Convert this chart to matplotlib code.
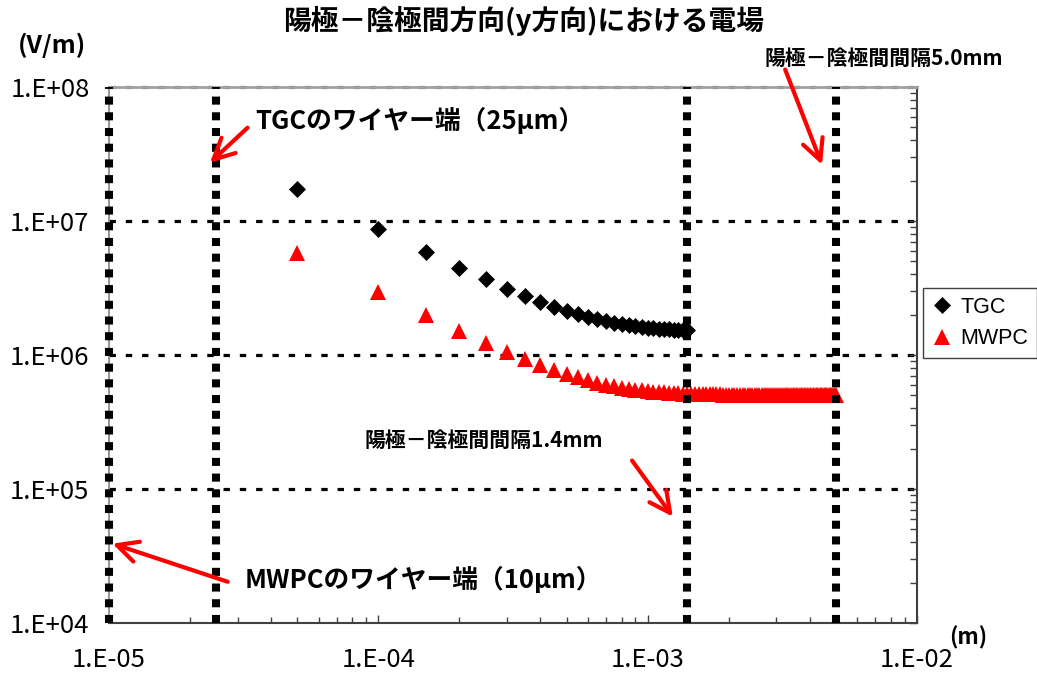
import numpy as np
import matplotlib
matplotlib.use("Agg")
import matplotlib.pyplot as plt
from matplotlib.ticker import LogLocator, FuncFormatter, NullFormatter

plt.rcParams['font.family'] = ['Noto Sans CJK JP', 'DejaVu Sans']

# distance from the wire (um) and field strength (V/m)
tgc_um = [50, 100, 150, 200, 250, 300, 350, 400, 450, 500,
          550, 600, 650, 700, 750, 800, 850, 900, 950, 1000,
          1050, 1100, 1150, 1200, 1250, 1300, 1350, 1400]
tgc_field = [1.72e7, 8.70e6, 5.87e6, 4.48e6, 3.67e6, 3.12e6, 2.76e6, 2.49e6, 2.29e6, 2.14e6,
             2.02e6, 1.93e6, 1.85e6, 1.79e6, 1.74e6, 1.70e6, 1.67e6, 1.64e6, 1.62e6, 1.60e6,
             1.585e6, 1.572e6, 1.562e6, 1.553e6, 1.546e6, 1.540e6, 1.535e6, 1.531e6]

mwpc_um = [50, 100, 150, 200, 250, 300, 350, 400, 450, 500,
           550, 600, 650, 700, 750, 800, 850, 900, 950, 1000,
           1050, 1100, 1150, 1200, 1250, 1300, 1350, 1400, 1450, 1500,
           1550, 1600, 1650, 1700, 1750, 1800, 1850, 1900, 1950, 2000,
           2050, 2100, 2150, 2200, 2250, 2300, 2350, 2400, 2450, 2500,
           2550, 2600, 2650, 2700, 2750, 2800, 2850, 2900, 2950, 3000,
           3050, 3100, 3150, 3200, 3250, 3300, 3350, 3400, 3450, 3500,
           3550, 3600, 3650, 3700, 3750, 3800, 3850, 3900, 3950, 4000,
           4050, 4100, 4150, 4200, 4250, 4300, 4350, 4400, 4450, 4500,
           4550, 4600, 4650, 4700, 4750, 4800, 4850, 4900, 4950, 5000]
mwpc_field = [5.81e6, 2.93e6, 1.98e6, 1.51e6, 1.23e6, 1.05e6, 9.29e5, 8.39e5, 7.72e5, 7.20e5,
              6.80e5, 6.48e5, 6.23e5, 6.02e5, 5.86e5, 5.72e5, 5.61e5, 5.52e5, 5.44e5, 5.38e5,
              5.33e5, 5.28e5, 5.25e5, 5.22e5, 5.19e5, 5.17e5, 5.15e5, 5.14e5, 5.12e5, 5.11e5,
              5.11e5, 5.10e5, 5.09e5, 5.09e5, 5.08e5, 5.08e5, 5.08e5, 5.07e5, 5.07e5, 5.07e5,
              5.07e5, 5.07e5, 5.07e5, 5.07e5, 5.07e5, 5.07e5, 5.07e5, 5.07e5, 5.07e5, 5.07e5,
              5.06e5, 5.06e5, 5.06e5, 5.06e5, 5.06e5, 5.06e5, 5.06e5, 5.06e5, 5.06e5, 5.06e5,
              5.06e5, 5.06e5, 5.06e5, 5.06e5, 5.06e5, 5.06e5, 5.06e5, 5.06e5, 5.06e5, 5.06e5,
              5.06e5, 5.06e5, 5.06e5, 5.06e5, 5.06e5, 5.06e5, 5.06e5, 5.06e5, 5.06e5, 5.06e5,
              5.06e5, 5.06e5, 5.06e5, 5.06e5, 5.06e5, 5.06e5, 5.06e5, 5.06e5, 5.06e5, 5.06e5,
              5.06e5, 5.06e5, 5.06e5, 5.06e5, 5.06e5, 5.06e5, 5.06e5, 5.06e5, 5.06e5, 5.06e5]

# wire surfaces (MWPC 10um, TGC 25um) and anode-cathode gaps (1.4mm, 5.0mm)
marker_lines = [10e-6, 25e-6, 1.4e-3, 5.0e-3]
grid_levels = [1e5, 1e6, 1e7]


def sci_label(v, pos):
    return "1.E{:+03d}".format(int(round(np.log10(v))))


def main():
    fig = plt.figure(figsize=(10.37, 6.77), dpi=100)
    ax = fig.add_axes([109 / 1037, 1 - 623 / 677, 808 / 1037, 536 / 677])
    ax.set_xscale('log')
    ax.set_yscale('log')
    ax.set_xlim(1e-5, 1e-2)
    ax.set_ylim(1e4, 1e8)

    for g in grid_levels:
        ax.axhline(g, color='black', lw=2.3, linestyle=(0, (2.0, 3.1)),
                   dash_capstyle='butt', zorder=1)
    ax.axhline(1e8, color='#6e6e6e', lw=2.3, linestyle=(0, (2.0, 3.1)),
               dash_capstyle='butt', zorder=1, clip_on=False)

    tgc_x = np.array(tgc_um) * 1e-6
    mwpc_x = np.array(mwpc_um) * 1e-6
    ax.plot(tgc_x, tgc_field, linestyle='none', marker='D', ms=8.3, mew=0.5,
            color='black', label='TGC', zorder=3)
    ax.plot(mwpc_x, mwpc_field, linestyle='none', marker='^', ms=11.5, mew=0,
            color='#ff0000', label='MWPC', zorder=3)

    for x in marker_lines:
        ax.axvline(x, color='black', lw=5.8, linestyle=(0, (1.0, 0.95)),
                   dash_capstyle='butt', zorder=4, clip_on=False)

    ax.spines['left'].set_color('#999999')
    ax.spines['left'].set_linewidth(1.5)
    ax.spines['top'].set_color('#a0a0a0')
    ax.spines['top'].set_linewidth(2.0)
    for side in ('bottom', 'right'):
        ax.spines[side].set_color('#404040')
        ax.spines[side].set_linewidth(1.5)

    ax.xaxis.set_major_locator(LogLocator(base=10, numticks=10))
    ax.xaxis.set_minor_locator(LogLocator(base=10, subs=np.arange(2, 10), numticks=10))
    ax.yaxis.set_major_locator(LogLocator(base=10, numticks=10))
    ax.yaxis.set_minor_locator(LogLocator(base=10, subs=np.arange(2, 10), numticks=10))
    ax.xaxis.set_major_formatter(FuncFormatter(sci_label))
    ax.yaxis.set_major_formatter(FuncFormatter(sci_label))
    ax.xaxis.set_minor_formatter(NullFormatter())
    ax.yaxis.set_minor_formatter(NullFormatter())

    ax.tick_params(axis='x', which='both', direction='in', top=False, bottom=True,
                   color='#404040', width=1)
    ax.tick_params(axis='x', which='major', length=6, pad=17, labelsize=18.5)
    ax.tick_params(axis='x', which='minor', length=4.5)
    ax.tick_params(axis='y', which='both', direction='in', left=False, right=True,
                   labelleft=True, labelright=False, color='#404040', width=1)
    ax.tick_params(axis='y', which='major', length=6, pad=14, labelsize=18.5)
    ax.tick_params(axis='y', which='minor', length=5)

    leg = ax.legend(loc='upper left', bbox_to_anchor=(923 / 1037, 1 - 288 / 677),
                    bbox_transform=fig.transFigure, borderaxespad=0, fancybox=False,
                    framealpha=1, edgecolor='#404040', borderpad=0.4,
                    handlelength=1.0, handletextpad=0.35, labelspacing=0.5,
                    prop={'family': 'Liberation Sans', 'size': 15.5})
    leg.get_frame().set_linewidth(1.0)

    fig.text(0.505, 1 - 21 / 677, '陽極－陰極間方向(y方向)における電場',
             ha='center', va='center', fontsize=20, fontweight='bold')
    fig.text(52 / 1037, 1 - 45 / 677, '(V/m)', ha='center', va='center',
             fontsize=18, fontweight='bold')
    fig.text(968 / 1037, 1 - 638 / 677, '(m)', ha='center', va='center',
             fontsize=16, fontweight='bold')

    fig.text(255 / 1037, 1 - 121 / 677, 'TGCのワイヤー端（25μm）',
             ha='left', va='center', fontsize=18.5, fontweight='bold')
    fig.text(245 / 1037, 1 - 580 / 677, 'MWPCのワイヤー端（10μm）',
             ha='left', va='center', fontsize=18.5, fontweight='bold')
    fig.text(765 / 1037, 1 - 58 / 677, '陽極－陰極間間隔5.0mm',
             ha='left', va='center', fontsize=15, fontweight='bold')
    fig.text(365 / 1037, 1 - 440 / 677, '陽極－陰極間間隔1.4mm',
             ha='left', va='center', fontsize=15, fontweight='bold')

    arrow = dict(arrowstyle='->,head_length=1.5,head_width=0.75', color='#ff0000',
                 lw=3.0, mutation_scale=10, shrinkA=0, shrinkB=0)
    ax.annotate('', xy=(2.37e-5, 2.72e7), xytext=(3.27e-5, 4.97e7),
                arrowprops=arrow, annotation_clip=False, zorder=5)
    ax.annotate('', xy=(4.44e-3, 2.63e7), xytext=(3.24e-3, 1.35e8),
                arrowprops=arrow, annotation_clip=False, zorder=5)
    ax.annotate('', xy=(1.24e-3, 6.21e4), xytext=(8.75e-4, 1.63e5),
                arrowprops=arrow, annotation_clip=False, zorder=5)
    ax.annotate('', xy=(1.03e-5, 3.91e4), xytext=(2.76e-5, 2.03e4),
                arrowprops=arrow, annotation_clip=False, zorder=5)

    fig.savefig('out.png', dpi=100)


if __name__ == "__main__":
    main()
